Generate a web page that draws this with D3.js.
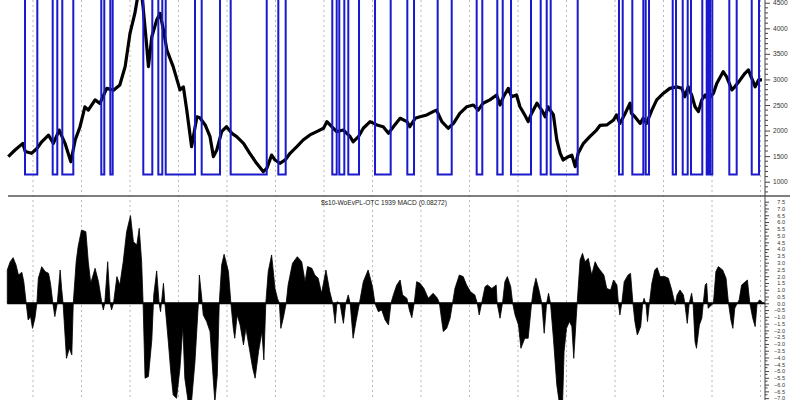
<!DOCTYPE html>
<html><head><meta charset="utf-8">
<script src="https://cdn.jsdelivr.net/npm/d3@7"></script>
<style>html,body{margin:0;padding:0;background:#fff;}svg{display:block;font-family:"Liberation Sans",Arial,sans-serif;}</style>
</head><body>
<svg id="c" width="800" height="400"></svg>
<script>
// ---- data (decimal years) ----
const priceDates = [1997.49,1997.63,1997.79,1997.84,1997.97,1998.08,1998.18,1998.32,1998.42,1998.54,1998.66,1998.78,1998.87,1998.97,1999.07,1999.14,1999.28,1999.38,1999.52,1999.66,1999.79,1999.90,2000.00,2000.10,2000.21,2000.27,2000.34,2000.38,2000.45,2000.55,2000.62,2000.69,2000.76,2000.89,2001.03,2001.10,2001.17,2001.27,2001.38,2001.44,2001.55,2001.65,2001.72,2001.79,2001.89,2001.99,2002.10,2002.20,2002.34,2002.47,2002.61,2002.75,2002.82,2002.92,2002.99,2003.09,2003.20,2003.30,2003.44,2003.57,2003.71,2003.85,2003.99,2004.06,2004.16,2004.26,2004.40,2004.54,2004.60,2004.71,2004.81,2004.95,2005.09,2005.22,2005.33,2005.43,2005.57,2005.71,2005.77,2005.88,2005.98,2006.12,2006.25,2006.32,2006.43,2006.56,2006.67,2006.80,2006.94,2007.08,2007.18,2007.28,2007.42,2007.56,2007.63,2007.70,2007.80,2007.87,2007.97,2008.04,2008.14,2008.21,2008.28,2008.39,2008.49,2008.56,2008.62,2008.73,2008.80,2008.87,2008.93,2009.04,2009.11,2009.18,2009.24,2009.35,2009.48,2009.62,2009.69,2009.83,2009.97,2010.03,2010.10,2010.21,2010.31,2010.34,2010.41,2010.52,2010.58,2010.65,2010.76,2010.86,2011.00,2011.13,2011.27,2011.38,2011.44,2011.51,2011.58,2011.65,2011.72,2011.79,2011.86,2011.92,2012.03,2012.10,2012.23,2012.30,2012.41,2012.47,2012.58,2012.68,2012.75,2012.82,2012.89,2012.96,2013.03];
const priceValues = [1490,1620,1750,1590,1555,1650,1780,1910,1750,2010,1750,1390,1815,2075,2465,2400,2600,2530,2825,2790,2890,3250,3900,4290,4900,4420,3700,3250,3835,4160,4290,3965,3575,3250,2795,2855,2400,1685,2270,2250,2110,1880,1490,1620,1980,2075,1945,1880,1750,1555,1360,1195,1260,1520,1425,1360,1425,1555,1685,1815,1915,1980,2045,2175,2075,1980,2010,1880,1780,1880,2045,2175,2110,2075,1945,2075,2240,2175,2075,2240,2270,2305,2370,2400,2175,2045,2140,2335,2465,2500,2400,2535,2600,2695,2500,2660,2825,2660,2695,2465,2305,2175,2335,2535,2400,2270,2465,2305,1815,1555,1425,1490,1520,1295,1555,1750,1880,2010,2100,2110,2205,2305,2140,2335,2535,2335,2270,2140,2240,2140,2400,2600,2730,2825,2855,2825,2660,2855,2695,2465,2370,2600,2695,2600,2730,2925,3150,3055,2795,2855,2990,3120,3185,3020,2855,2990,2990];

// signal: low (sell) periods start / end
const sellDates = [1997.835,1998.406,1998.604,1999.408,1999.594,2000.274,2000.584,2000.736,2001.478,2002.076,2003.058,2004.171,2004.315,2004.501,2005.052,2005.718,2006.344,2007.148,2007.573,2007.856,2008.468,2008.674,2010.082,2010.357,2010.633,2011.190,2011.396,2011.567,2011.891,2011.959,2012.357,2012.819];
const buyDates  = [1998.089,1998.501,1998.831,1999.470,1999.643,2000.460,2000.666,2001.340,2001.856,2002.819,2003.210,2004.262,2004.419,2004.722,2005.375,2005.856,2006.633,2007.264,2007.685,2008.268,2008.592,2009.231,2010.159,2010.584,2010.701,2011.258,2011.499,2011.800,2011.924,2012.006,2012.509,2012.969];
const signalLow = 1140, signalHigh = 5200;

const macdDates = [1997.47,1997.53,1997.59,1997.65,1997.70,1997.77,1997.81,1997.86,1997.90,1997.95,1997.99,1998.04,1998.08,1998.11,1998.18,1998.25,1998.32,1998.36,1998.41,1998.45,1998.50,1998.56,1998.59,1998.62,1998.69,1998.75,1998.80,1998.83,1998.89,1998.93,1999.00,1999.09,1999.14,1999.19,1999.28,1999.35,1999.42,1999.45,1999.48,1999.54,1999.59,1999.62,1999.66,1999.73,1999.79,1999.86,1999.93,2000.01,2000.07,2000.14,2000.19,2000.24,2000.27,2000.31,2000.38,2000.45,2000.49,2000.55,2000.60,2000.63,2000.69,2000.72,2000.79,2000.84,2000.89,2000.96,2001.03,2001.09,2001.13,2001.20,2001.27,2001.34,2001.41,2001.43,2001.48,2001.51,2001.58,2001.65,2001.72,2001.75,2001.80,2001.84,2001.89,2001.94,2002.03,2002.08,2002.13,2002.16,2002.21,2002.27,2002.34,2002.39,2002.46,2002.53,2002.58,2002.65,2002.72,2002.76,2002.80,2002.85,2002.92,2002.99,2003.04,2003.08,2003.11,2003.16,2003.22,2003.26,2003.35,2003.45,2003.54,2003.61,2003.66,2003.75,2003.81,2003.88,2003.95,2004.04,2004.12,2004.18,2004.23,2004.27,2004.33,2004.37,2004.40,2004.45,2004.50,2004.54,2004.60,2004.66,2004.73,2004.81,2004.91,2005.00,2005.05,2005.12,2005.19,2005.26,2005.33,2005.38,2005.43,2005.50,2005.57,2005.62,2005.71,2005.76,2005.81,2005.86,2005.91,2005.98,2006.06,2006.15,2006.25,2006.34,2006.38,2006.43,2006.46,2006.53,2006.60,2006.65,2006.70,2006.79,2006.87,2006.94,2007.02,2007.11,2007.16,2007.20,2007.25,2007.32,2007.37,2007.46,2007.55,2007.57,2007.63,2007.68,2007.73,2007.78,2007.85,2007.89,2007.94,2008.01,2008.06,2008.14,2008.21,2008.28,2008.32,2008.37,2008.44,2008.49,2008.54,2008.59,2008.63,2008.67,2008.73,2008.80,2008.85,2008.92,2008.95,2009.00,2009.06,2009.11,2009.15,2009.20,2009.22,2009.28,2009.33,2009.38,2009.45,2009.52,2009.59,2009.64,2009.69,2009.77,2009.83,2009.91,2009.97,2010.04,2010.07,2010.10,2010.14,2010.19,2010.27,2010.32,2010.37,2010.41,2010.46,2010.53,2010.57,2010.60,2010.64,2010.67,2010.71,2010.76,2010.82,2010.87,2010.93,2011.03,2011.10,2011.17,2011.24,2011.28,2011.34,2011.41,2011.44,2011.49,2011.53,2011.58,2011.61,2011.65,2011.68,2011.74,2011.79,2011.82,2011.86,2011.89,2011.92,2011.99,2012.03,2012.08,2012.13,2012.22,2012.29,2012.34,2012.39,2012.43,2012.47,2012.52,2012.56,2012.61,2012.73,2012.78,2012.84,2012.89,2012.93,2012.98,2013.03];
const macdValues = [2.46,3.07,3.37,2.83,2.09,2.29,1.6,0,-1.23,-0.98,-1.85,-1.1,0,1.85,2.7,2.34,2.21,1.48,0,-0.98,0,2.46,1.1,0,-4.06,-3.32,-3.81,0,3.07,4.18,5.41,5.29,3.07,1.48,2.58,1.6,0,-0.49,0,3.07,0,-0.49,0,1.97,1.35,3.07,5.29,6.47,4.55,4.3,5.54,3.07,0,-5.53,-5.41,-2.71,0.62,2.39,0,-0.62,1.48,0,-2.83,-5.04,-6.77,-7.01,-4.8,-1.72,-5.53,-7.3,-7.2,-4.3,0,2.09,0.37,-0.86,-1.35,-2.09,-5.78,-7.3,-5.29,0,2.83,3.62,2.34,0,-1.85,-2.58,-0.86,-1.6,-3.07,-1.85,-3.32,-4.8,-5.53,-3.57,-2.09,-4.18,0,2.34,3.57,1.1,0.37,0,-1.85,-1.1,0,1.35,2.95,3.44,3.07,1.6,2.71,2.58,2.09,1.85,0.74,2.46,0.86,0,-1.48,0.12,0,-0.86,-1.48,0,0.62,0,-2.58,-1.35,0,1.6,2.46,1.23,0,-0.62,-0.49,-1.23,-1.6,0,0.62,1.35,1.72,0.62,0.37,-0.49,-1.06,0,1.6,1.48,1.1,0.37,0.74,0.37,0,-1.35,-2.09,-1.85,-1.1,0,1.1,2.09,1.97,1.35,0.86,0.62,0,-0.86,0,1.23,1.35,1.1,1.35,0,-1.1,0,1.6,1.97,1.23,0,-0.86,-1.6,-3.32,-2.58,-2.58,0,1.1,1.85,0.86,0,-2.21,0,0.74,0,-2.58,-6.03,-7.3,-7.3,-3.57,-1.85,-1.35,-1.72,-4.06,-1.1,0,3.2,3.69,3.07,3.32,2.09,3.07,2.71,2.46,2.09,1.1,0.98,1.72,1.35,0,-0.86,0,1.6,2.09,2.21,0,-1.35,-2.34,-1.72,0,0.37,-0.12,-1.35,0,1.48,2.46,2.63,1.97,1.97,1.85,0.98,-0.12,0.62,0.98,0.62,0,-1.48,0,0.74,0,-2.83,-3.32,-1.6,-1.1,0,1.35,1.48,-0.37,-0.12,0,2.34,2.71,2.46,1.85,0,-1.23,-1.85,-0.37,0,0.25,1.35,1.72,0,-1.1,-1.72,0,0.25,0.12];

const priceTicks = [1000,1500,2000,2500,3000,3500,4000,4500];
const macdTicks = d3.range(-14, 16).map(i => i * 0.5); // -7.0 .. 7.5
const gridYears = d3.range(1998, 2014);
const title = "$s10-WoEvPL-OTC 1939 MACD (0.08272)";

// ---- scales ----
const x = d3.scaleLinear().domain([1998, 2013]).range([33, 760.5]);
const yP = d3.scaleLinear().domain([1000, 4500]).range([181.7, 2.7]);
const yM = d3.scaleLinear().domain([0, 7.5]).range([303.3, 201.7]);

const svg = d3.select("#c");
const defs = svg.append("defs");
defs.append("clipPath").attr("id","cTop").append("rect").attr("x",0).attr("y",0).attr("width",765).attr("height",195);
defs.append("clipPath").attr("id","cBot").append("rect").attr("x",0).attr("y",197).attr("width",765).attr("height",203);

// gridlines
svg.append("g").selectAll("line").data(gridYears).join("line")
  .attr("x1", d => x(d)).attr("x2", d => x(d)).attr("y1", 0).attr("y2", 400)
  .attr("stroke", "#b8b8b8").attr("stroke-width", 1).attr("stroke-dasharray", "2,3");

// top panel
const gTopPanel = svg.append("g").attr("clip-path","url(#cTop)");
const sig = [];
sig.push({t: priceDates[0], v: signalHigh});
sellDates.forEach((s,i) => { sig.push({t: s, v: signalLow}); sig.push({t: buyDates[i], v: signalHigh}); });
sig.push({t: priceDates[priceDates.length-1], v: signalHigh});
const price = priceDates.map((t,i) => ({t, v: priceValues[i]}));

gTopPanel.append("path").datum(price)
  .attr("d", d3.line().x(d => x(d.t)).y(d => yP(d.v)))
  .attr("fill","none").attr("stroke","#000").attr("stroke-width",3.2).attr("stroke-linejoin","round");
gTopPanel.append("path").datum(sig)
  .attr("d", d3.line().curve(d3.curveStepAfter).x(d => x(d.t)).y(d => yP(d.v)))
  .attr("fill","none").attr("stroke","#1a1acc").attr("stroke-width",2);

// separator
svg.append("line").attr("x1",8).attr("x2",790).attr("y1",196).attr("y2",196)
  .attr("stroke","#555").attr("stroke-width",1.4);

// bottom panel
const gBotPanel = svg.append("g").attr("clip-path","url(#cBot)");
const macd = macdDates.map((t,i) => ({t, v: macdValues[i]}));
gBotPanel.append("path").datum(macd)
  .attr("d", d3.area().x(d => x(d.t)).y0(yM(0)).y1(d => yM(d.v)))
  .attr("fill","#000").attr("stroke","#000").attr("stroke-width",0.8);
gBotPanel.append("line").attr("x1", x(macdDates[0])).attr("x2", 765).attr("y1", yM(0)).attr("y2", yM(0))
  .attr("stroke","#000").attr("stroke-width",2);

svg.append("text").attr("x",321).attr("y",204.5).attr("font-size",6.6).attr("fill","#222").text(title);

// right axes
svg.append("line").attr("x1",765).attr("x2",765).attr("y1",0).attr("y2",400).attr("stroke","#444").attr("stroke-width",1);

const axTop = d3.axisRight(yP).tickValues(priceTicks).tickSize(5).tickFormat(d3.format("d"));
const gT = svg.append("g").attr("transform","translate(765,0)").call(axTop);
gT.select(".domain").remove();
gT.selectAll("text").attr("font-size",6.6).attr("fill","#333").attr("x",8).attr("font-family","Liberation Sans, Arial, sans-serif");
gT.selectAll("line").attr("stroke","#444");
const minorTop = d3.range(800, 4700, 100).filter(v => v % 500 !== 0);
svg.append("g").selectAll("line").data(minorTop).join("line")
  .attr("x1",765).attr("x2",768).attr("y1", d => yP(d)).attr("y2", d => yP(d)).attr("stroke","#444");

const fmtM = v => (v < 0 ? "\u2212" : "") + Math.abs(v).toFixed(1);
const axBot = d3.axisRight(yM).tickValues(macdTicks).tickSize(4).tickFormat(fmtM);
const gB = svg.append("g").attr("transform","translate(765,0)").call(axBot);
gB.select(".domain").remove();
gB.selectAll("text").attr("font-size",5.6).attr("fill","#333").attr("x",20).attr("text-anchor","end").attr("font-family","Liberation Sans, Arial, sans-serif");
gB.selectAll("line").attr("stroke","#444");
const minorBot = d3.range(-29, 31).map(i => i*0.25).filter(v => Math.abs(v*2 - Math.round(v*2)) > 0.01);
svg.append("g").selectAll("line").data(minorBot).join("line")
  .attr("x1",765).attr("x2",767.5).attr("y1", d => yM(d)).attr("y2", d => yM(d)).attr("stroke","#444");
</script>
</body></html>
